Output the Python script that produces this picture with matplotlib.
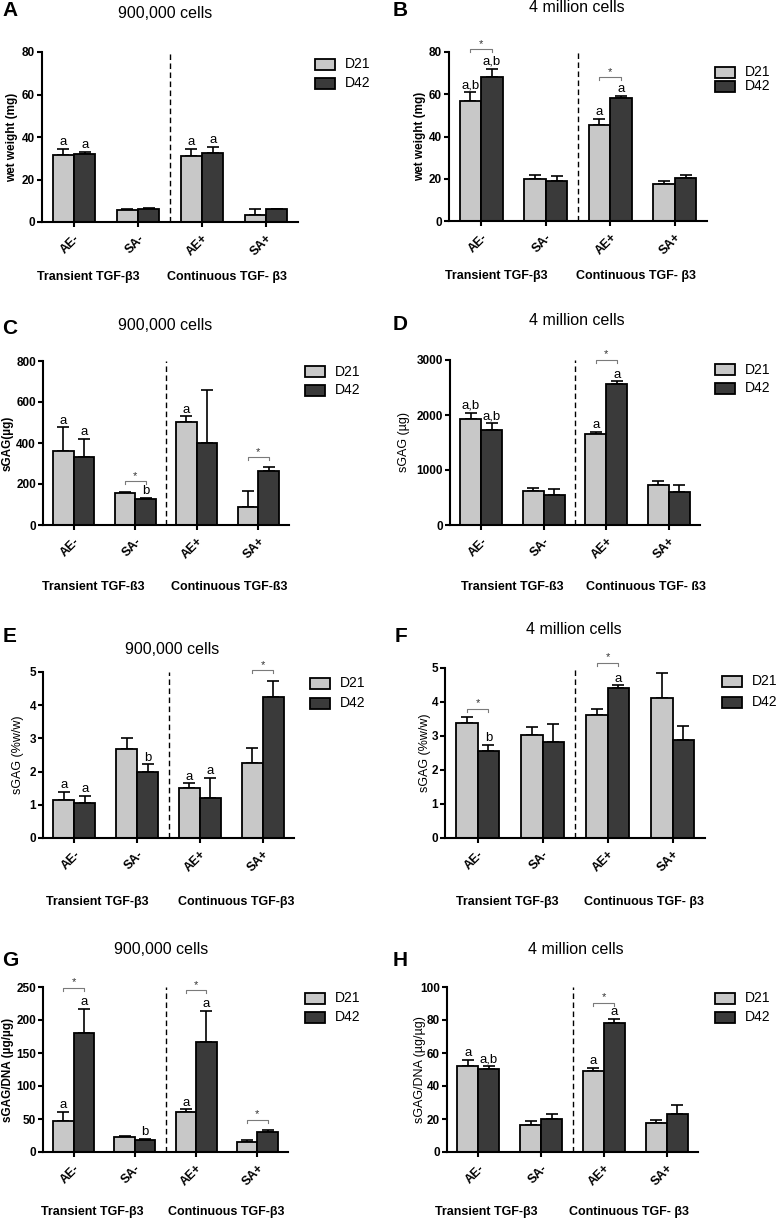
import matplotlib
matplotlib.use('Agg')
import matplotlib.pyplot as plt
import numpy as np
from matplotlib.patches import Rectangle

plt.rcParams['font.family'] = ['Liberation Sans', 'DejaVu Sans']

# ---------------- data ----------------
categories = ['AE-', 'SA-', 'AE+', 'SA+']
series_names = ['D21', 'D42']

# A: wet weight (mg), 900,000 cells
A_d21 = [31.5, 5.5, 31.0, 3.5]
A_d21_err = [2.8, 0.6, 3.3, 2.8]
A_d42 = [31.8, 6.3, 32.6, 6.0]
A_d42_err = [1.3, 0.4, 2.8, 0.3]

# B: wet weight (mg), 4 million cells
B_d21 = [56.9, 20.1, 45.5, 17.4]
B_d21_err = [4.0, 1.6, 2.7, 1.6]
B_d42 = [68.0, 19.0, 58.3, 20.2]
B_d42_err = [4.1, 2.3, 0.8, 1.6]

# C: sGAG (ug), 900,000 cells
C_d21 = [363, 155, 501, 87]
C_d21_err = [114, 7, 29, 81]
C_d42 = [334, 126, 399, 265]
C_d42_err = [86, 6, 260, 18]

# D: sGAG (ug), 4 million cells
D_d21 = [1921, 618, 1655, 727]
D_d21_err = [121, 55, 42, 73]
D_d42 = [1721, 545, 2570, 606]
D_d42_err = [127, 103, 42, 121]

# E: sGAG (%w/w), 900,000 cells
E_d21 = [1.14, 2.67, 1.52, 2.26]
E_d21_err = [0.25, 0.33, 0.13, 0.44]
E_d42 = [1.05, 1.99, 1.19, 4.26]
E_d42_err = [0.22, 0.23, 0.62, 0.48]

# F: sGAG (%w/w), 4 million cells
F_d21 = [3.38, 3.02, 3.62, 4.12]
F_d21_err = [0.17, 0.25, 0.17, 0.73]
F_d42 = [2.55, 2.82, 4.40, 2.87]
F_d42_err = [0.19, 0.53, 0.09, 0.41]

# G: sGAG/DNA (ug/ug), 900,000 cells
G_d21 = [47.4, 22.9, 61.0, 15.8]
G_d21_err = [13.6, 2.1, 3.7, 3.0]
G_d42 = [180.0, 18.8, 166.5, 31.0]
G_d42_err = [37.0, 1.1, 47.5, 2.6]

# H: sGAG/DNA (ug/ug), 4 million cells
H_d21 = [52.1, 16.3, 48.9, 17.7]
H_d21_err = [3.8, 2.4, 2.0, 1.8]
H_d42 = [50.1, 20.3, 78.3, 23.3]
H_d42_err = [2.2, 3.0, 2.2, 5.3]

# letter annotations: (category index, series index, text)
A_letters = [(0, 0, 'a'), (0, 1, 'a'), (2, 0, 'a'), (2, 1, 'a')]
B_letters = [(0, 0, 'a,b'), (0, 1, 'a,b'), (2, 0, 'a'), (2, 1, 'a')]
C_letters = [(0, 0, 'a'), (0, 1, 'a'), (1, 1, 'b'), (2, 0, 'a')]
D_letters = [(0, 0, 'a,b'), (0, 1, 'a,b'), (2, 0, 'a'), (2, 1, 'a')]
E_letters = [(0, 0, 'a'), (0, 1, 'a'), (1, 1, 'b'), (2, 0, 'a'), (2, 1, 'a')]
F_letters = [(0, 1, 'b'), (2, 1, 'a')]
G_letters = [(0, 0, 'a'), (0, 1, 'a'), (1, 1, 'b'), (2, 0, 'a'), (2, 1, 'a')]
H_letters = [(0, 0, 'a'), (0, 1, 'a,b'), (2, 0, 'a'), (2, 1, 'a')]

# significance brackets: (category index, bracket height in data units)
A_stars = []
B_stars = [(0, 81.3), (2, 68.1)]
C_stars = [(1, 213), (3, 331)]
D_stars = [(2, 3000)]
E_stars = [(3, 5.05)]
F_stars = [(0, 3.80), (2, 5.15)]
G_stars = [(0, 248.5), (2, 245), (3, 48.4)]
H_stars = [(2, 90.5)]

# ---------------- layout ----------------
W, H = 777, 1220
LIGHT = '#c8c8c8'
DARK = '#3a3a3a'
fig = plt.figure(figsize=(W / 100, H / 100), dpi=100)

panels = [
    dict(letter='A', d=(A_d21, A_d21_err, A_d42, A_d42_err), lets=A_letters, stars=A_stars,
         box=(42, 52, 298, 222), ymax=80, step=20, ylabel='wet weight (mg)', ybold=True, ylx=12.5,
         title='900,000 cells', tpos=(165, 13), lpos=(10, 11), leg=(315, 64, 19),
         gy=277, gx=(88, 227), gt=('Transient TGF-β3', 'Continuous TGF- β3')),
    dict(letter='B', d=(B_d21, B_d21_err, B_d42, B_d42_err), lets=B_letters, stars=B_stars,
         box=(449, 52, 707, 221), ymax=80, step=20, ylabel='wet weight (mg)', ybold=True, ylx=420,
         title='4 million cells', tpos=(577, 8), lpos=(400, 10), leg=(715, 72, 14.5),
         gy=276, gx=(496, 636), gt=('Transient TGF-β3', 'Continuous TGF- β3')),
    dict(letter='C', d=(C_d21, C_d21_err, C_d42, C_d42_err), lets=C_letters, stars=C_stars,
         box=(43, 361, 289, 525), ymax=800, step=200, ylabel='sGAG(µg)', ybold=True, ylx=8,
         title='900,000 cells', tpos=(165, 325), lpos=(10, 328), leg=(305, 372, 18),
         gy=587, gx=(93, 229), gt=('Transient TGF-ß3', 'Continuous TGF-ß3')),
    dict(letter='D', d=(D_d21, D_d21_err, D_d42, D_d42_err), lets=D_letters, stars=D_stars,
         box=(450, 360, 700, 525), ymax=3000, step=1000, ylabel='sGAG (µg)', ybold=False, ylx=404,
         title='4 million cells', tpos=(577, 320), lpos=(400, 325), leg=(715, 370, 18),
         gy=587, gx=(512, 646), gt=('Transient TGF-ß3', 'Continuous TGF- ß3')),
    dict(letter='E', d=(E_d21, E_d21_err, E_d42, E_d42_err), lets=E_letters, stars=E_stars,
         box=(43, 672, 294, 838), ymax=5, step=1, ylabel='sGAG (%w/w)', ybold=False, ylx=18,
         title='900,000 cells', tpos=(172, 650), lpos=(10, 637), leg=(310, 683, 20),
         gy=902, gx=(97, 236), gt=('Transient TGF-β3', 'Continuous TGF-β3')),
    dict(letter='F', d=(F_d21, F_d21_err, F_d42, F_d42_err), lets=F_letters, stars=F_stars,
         box=(445, 668, 705, 838), ymax=5, step=1, ylabel='sGAG (%w/w)', ybold=False, ylx=425,
         title='4 million cells', tpos=(574, 630), lpos=(401, 637), leg=(722, 681, 21),
         gy=902, gx=(507, 644), gt=('Transient TGF-β3', 'Continuous TGF- β3')),
    dict(letter='G', d=(G_d21, G_d21_err, G_d42, G_d42_err), lets=G_letters, stars=G_stars,
         box=(43, 987, 288, 1152), ymax=250, step=50, ylabel='sGAG/DNA (µg/µg)', ybold=True, ylx=8.5,
         title='900,000 cells', tpos=(161, 950), lpos=(10, 960), leg=(305, 998, 19),
         gy=1212, gx=(92, 226), gt=('Transient TGF-β3', 'Continuous TGF-β3')),
    dict(letter='H', d=(H_d21, H_d21_err, H_d42, H_d42_err), lets=H_letters, stars=H_stars,
         box=(447, 987, 698, 1152), ymax=100, step=20, ylabel='sGAG/DNA (µg/µg)', ybold=False, ylx=420,
         title='4 million cells', tpos=(576, 950), lpos=(400, 960), leg=(715, 998, 19),
         gy=1212, gx=(486, 629), gt=('Transient TGF-β3', 'Continuous TGF- β3')),
]

BW = 0.335  # bar width (fraction of category spacing)


def fx(px):
    return px / W


def fy(py):
    return 1 - py / H


for p in panels:
    l, t, r, b = p['box']
    ax = fig.add_axes([fx(l), fy(b), (r - l) / W, (b - t) / H])
    d21, d21e, d42, d42e = [np.asarray(v, dtype=float) for v in p['d']]
    x = np.arange(len(categories))
    ax.bar(x - BW / 2, d21, BW, color=LIGHT, edgecolor='black', linewidth=1.3, zorder=2)
    ax.bar(x + BW / 2, d42, BW, color=DARK, edgecolor='black', linewidth=1.3, zorder=2)
    ax.errorbar(x - BW / 2, d21, yerr=[np.zeros_like(d21e), d21e], fmt='none', ecolor='black',
                elinewidth=1.2, capsize=4.3, capthick=1.2, zorder=1, clip_on=False)
    ax.errorbar(x + BW / 2, d42, yerr=[np.zeros_like(d42e), d42e], fmt='none', ecolor='black',
                elinewidth=1.2, capsize=4.3, capthick=1.2, zorder=1, clip_on=False)

    ymax = p['ymax']
    ax.set_xlim(-0.5, 3.5)
    ax.set_ylim(0, ymax)
    ax.set_yticks(np.arange(0, ymax + p['step'] / 2, p['step']))
    ax.set_xticks(x)
    ax.set_xticklabels(categories, rotation=45, ha='right', rotation_mode='anchor',
                       fontsize=9, fontweight='bold')
    for lab in ax.get_yticklabels():
        lab.set_fontsize(8.5)
        lab.set_fontweight('bold')
    for s in ['top', 'right']:
        ax.spines[s].set_visible(False)
    for s in ['left', 'bottom']:
        ax.spines[s].set_linewidth(1.5)
    ax.tick_params(axis='both', direction='out', length=3.5, width=1.5, pad=1.5)
    ax.tick_params(axis='x', pad=4)

    ax.axvline(1.5, color='black', lw=1.0, ls=(0, (4, 2.5)), zorder=0)

    ax.set_ylabel(p['ylabel'], fontsize=8.5 if p['ybold'] else 9,
                  fontweight='bold' if p['ybold'] else 'normal', va='center')
    ax.yaxis.set_label_coords((p['ylx'] - l) / (r - l), 0.5)

    # letters
    tops = {0: d21 + d21e, 1: d42 + d42e}
    for ci, si, txt in p['lets']:
        xpos = ci - BW / 2 if si == 0 else ci + BW / 2
        ax.annotate(txt, (xpos, tops[si][ci]), xytext=(0, 0.5), textcoords='offset points',
                    ha='center', va='bottom', fontsize=9.5, annotation_clip=False)

    # significance brackets
    tick = ymax * 3.0 / (b - t)
    for ci, hgt in p['stars']:
        xs = [ci - BW / 2, ci - BW / 2, ci + BW / 2, ci + BW / 2]
        ys = [hgt - tick, hgt, hgt, hgt - tick]
        ax.plot(xs, ys, color='#7a7a7a', lw=0.8, clip_on=False, zorder=3)
        ax.text(ci, hgt + ymax * 0.5 / (b - t), '*', ha='center', va='bottom', fontsize=8,
                color='#333333', clip_on=False)

    # title and panel letter
    fig.text(fx(p['tpos'][0]), fy(p['tpos'][1]), p['title'], ha='center', va='center', fontsize=11.5)
    fig.text(fx(p['lpos'][0]), fy(p['lpos'][1]), p['letter'], ha='center', va='center',
             fontsize=15, fontweight='bold')

    # legend (drawn manually)
    lx, ly, dy = p['leg']
    for k, (name, col) in enumerate(zip(series_names, [LIGHT, DARK])):
        cy = ly + k * dy
        fig.patches.append(Rectangle((fx(lx), fy(cy + 5.5)), 20 / W, 11 / H, transform=fig.transFigure,
                                     facecolor=col, edgecolor='black', linewidth=1.3))
        fig.text(fx(lx + 30), fy(cy), name, ha='left', va='center', fontsize=10)

    # group labels
    for gx, gt in zip(p['gx'], p['gt']):
        fig.text(fx(gx), fy(p['gy']), gt, ha='center', va='center', fontsize=9, fontweight='bold')

fig.savefig('out.png', dpi=100)
